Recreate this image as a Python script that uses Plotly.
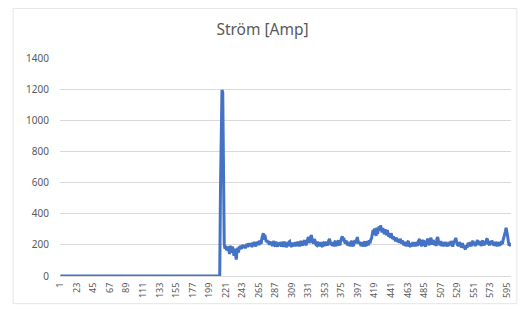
import plotly.graph_objects as go

title_text = "Ström [Amp]"

# Current values, category 1..213 (before start): zero
off_values = [
    0, 0, 0, 0, 0, 0, 0, 0, 0, 0, 0, 0, 0, 0, 0, 0, 0, 0, 0, 0, 0, 0, 0, 0, 0, 0, 0, 0, 0, 0,
    0, 0, 0, 0, 0, 0, 0, 0, 0, 0, 0, 0, 0, 0, 0, 0, 0, 0, 0, 0, 0, 0, 0, 0, 0, 0, 0, 0, 0, 0,
    0, 0, 0, 0, 0, 0, 0, 0, 0, 0, 0, 0, 0, 0, 0, 0, 0, 0, 0, 0, 0, 0, 0, 0, 0, 0, 0, 0, 0, 0,
    0, 0, 0, 0, 0, 0, 0, 0, 0, 0, 0, 0, 0, 0, 0, 0, 0, 0, 0, 0, 0, 0, 0, 0, 0, 0, 0, 0, 0, 0,
    0, 0, 0, 0, 0, 0, 0, 0, 0, 0, 0, 0, 0, 0, 0, 0, 0, 0, 0, 0, 0, 0, 0, 0, 0, 0, 0, 0, 0, 0,
    0, 0, 0, 0, 0, 0, 0, 0, 0, 0, 0, 0, 0, 0, 0, 0, 0, 0, 0, 0, 0, 0, 0, 0, 0, 0, 0, 0, 0, 0,
    0, 0, 0, 0, 0, 0, 0, 0, 0, 0, 0, 0, 0, 0, 0, 0, 0, 0, 0, 0, 0, 0, 0, 0, 0, 0, 0, 0, 0, 0,
    0, 0, 0,
]

# Current values, category 214..600 (start spike and running)
run_values = [
    560, 1150, 1195, 1180, 640, 205, 175, 195, 165, 190, 160, 182, 140, 195, 165, 150, 190, 160, 130, 175,
    140, 105, 160, 180, 150, 190, 170, 195, 175, 185, 200, 180, 198, 178, 195, 205, 185, 210, 190, 212,
    192, 208, 185, 215, 195, 220, 200, 190, 218, 200, 222, 198, 228, 210, 205, 240, 262, 275, 232, 265,
    240, 218, 230, 212, 225, 200, 222, 205, 218, 192, 212, 225, 198, 190, 220, 200, 188, 212, 195, 218,
    205, 190, 220, 195, 188, 212, 218, 195, 185, 215, 192, 218, 222, 200, 195, 188, 215, 195, 212, 190,
    218, 200, 192, 222, 205, 190, 212, 225, 205, 195, 212, 220, 230, 205, 198, 222, 235, 250, 228, 212,
    252, 262, 232, 220, 208, 238, 215, 202, 198, 222, 192, 212, 190, 218, 200, 192, 188, 212, 218, 195,
    212, 220, 195, 218, 228, 238, 210, 198, 218, 192, 212, 190, 218, 225, 200, 195, 218, 228, 205, 198,
    228, 242, 255, 225, 245, 222, 208, 228, 205, 198, 220, 192, 212, 190, 218, 225, 198, 192, 218, 230,
    210, 232, 250, 225, 208, 218, 198, 192, 218, 200, 190, 212, 222, 198, 192, 225, 205, 198, 230, 210,
    235, 242, 270, 295, 265, 305, 275, 258, 310, 270, 298, 318, 290, 325, 300, 280, 308, 285, 268, 300,
    272, 262, 295, 268, 252, 270, 245, 275, 250, 238, 255, 232, 248, 222, 245, 228, 218, 238, 212, 240,
    218, 208, 228, 202, 198, 220, 192, 212, 190, 218, 225, 198, 192, 188, 212, 190, 218, 195, 212, 190,
    218, 200, 192, 222, 228, 238, 205, 198, 192, 225, 230, 205, 198, 190, 218, 230, 240, 210, 198, 235,
    245, 215, 202, 232, 210, 198, 220, 192, 240, 250, 222, 202, 198, 225, 192, 212, 190, 218, 198, 192,
    218, 198, 190, 212, 192, 220, 198, 225, 192, 188, 212, 218, 230, 245, 215, 202, 198, 192, 218, 198,
    190, 185, 212, 180, 195, 178, 172, 198, 182, 205, 212, 190, 218, 198, 192, 218, 225, 198, 218, 192,
    212, 220, 230, 205, 198, 225, 200, 192, 218, 228, 205, 198, 222, 205, 235, 240, 212, 202, 198, 225,
    205, 228, 210, 198, 218, 192, 220, 198, 190, 218, 198, 192, 218, 198, 225, 205, 230, 245, 265, 285,
    310, 290, 255, 222, 195, 212, 190,
]

values = off_values + run_values
categories = list(range(1, len(values) + 1))

x_tick_labels = [1, 23, 45, 67, 89, 111, 133, 155, 177, 199, 221, 243, 265, 287,
                 309, 331, 353, 375, 397, 419, 441, 463, 485, 507, 529, 551, 573, 595]
y_ticks = [0, 200, 400, 600, 800, 1000, 1200, 1400]

fig = go.Figure()
fig.add_trace(go.Scatter(
    x=categories, y=values, mode="lines",
    line=dict(color="#4472C4", width=3),
    hoverinfo="skip", showlegend=False,
))

fig.update_layout(
    width=525, height=310,
    margin=dict(l=60, r=12, t=58, b=32),
    paper_bgcolor="white", plot_bgcolor="white",
    font=dict(family="Noto Sans, sans-serif", color="#595959"),
    title=dict(text=title_text, x=0.5, xref="container", xanchor="center",
               y=0.903, yref="container", yanchor="middle",
               font=dict(size=15.5, color="#595959", family="Noto Sans, sans-serif")),
    showlegend=False,
)
fig.update_xaxes(
    range=[0.5, len(values) + 0.5],
    tickmode="array", tickvals=x_tick_labels, ticktext=[str(v) for v in x_tick_labels],
    tickangle=-90, tickfont=dict(size=9, color="#595959"),
    showgrid=False, zeroline=False,
    showline=True, linecolor="#d9d9d9", linewidth=1,
    ticks="", ticklabelstandoff=2,
)
fig.update_yaxes(
    range=[0, 1400], tickmode="array", tickvals=y_ticks,
    tickfont=dict(size=10, color="#595959"),
    showgrid=True, gridcolor="#d9d9d9", gridwidth=1,
    zeroline=False, showline=False, ticks="", ticklabelstandoff=10,
)
fig.add_shape(type="rect", xref="paper", yref="paper",
              x0=-0.104, x1=1.013, y0=-0.127, y1=1.227,
              line=dict(color="#e6e6e6", width=1), fillcolor="rgba(0,0,0,0)", layer="below")

fig.write_html("out.html", config={"displayModeBar": False},
               post_script="document.body.style.margin='0px';")
